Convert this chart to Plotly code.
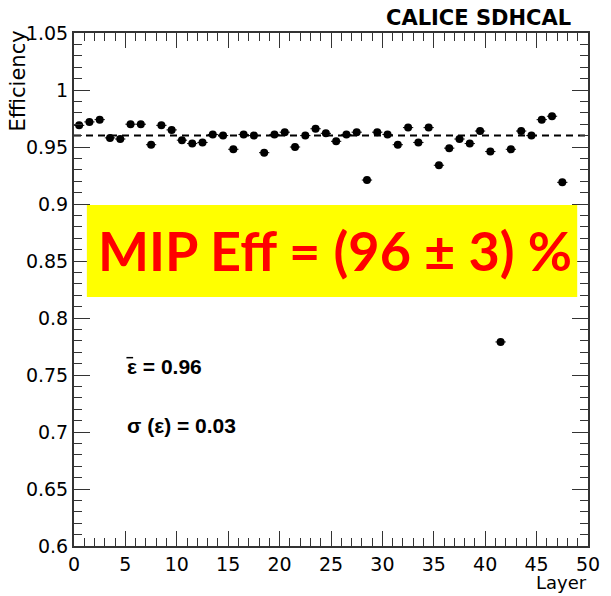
import plotly.graph_objects as go

layers = [i + 0.5 for i in range(48)]
efficiency = [0.969, 0.972, 0.974, 0.958, 0.957, 0.970, 0.970, 0.952, 0.969, 0.965,
              0.956, 0.953, 0.954, 0.961, 0.960, 0.948, 0.961, 0.960, 0.945, 0.961,
              0.963, 0.950, 0.960, 0.966, 0.962, 0.955, 0.961, 0.963, 0.921, 0.963,
              0.961, 0.952, 0.967, 0.954, 0.967, 0.934, 0.949, 0.957, 0.953, 0.964,
              0.946, 0.779, 0.948, 0.964, 0.960, 0.974, 0.977, 0.919]
mean_eff = 0.96
x_range = [0, 50]
y_range = [0.6, 1.05]
y_ticks = [0.6, 0.65, 0.7, 0.75, 0.8, 0.85, 0.9, 0.95, 1.0, 1.05]
y_ticktext = ["0.6", "0.65", "0.7", "0.75", "0.8", "0.85", "0.9", "0.95", "1", "1.05"]
x_ticks = [0, 5, 10, 15, 20, 25, 30, 35, 40, 45, 50]

AX = "#333333"
FONT = "DejaVu Sans"
ARIAL = "Liberation Sans"

fig = go.Figure()
fig.add_trace(go.Scatter(
    x=x_range, y=[mean_eff, mean_eff], mode="lines",
    line=dict(color="black", width=2, dash="7px,5px"), hoverinfo="skip", showlegend=False))
fig.add_trace(go.Scatter(
    x=layers, y=efficiency, mode="markers",
    marker=dict(color="black", size=8, symbol="circle"),
    error_x=dict(type="constant", value=0.5, color="black", thickness=1, width=0),
    showlegend=False))
# invisible trace to activate the mirrored (top/right) tick axes
fig.add_trace(go.Scatter(x=x_range, y=y_range, xaxis="x2", yaxis="y2", mode="markers",
                         marker=dict(opacity=0), hoverinfo="skip", showlegend=False))

# yellow box with red text
fig.add_shape(type="rect", xref="x", yref="y", x0=1.25, x1=48.95, y0=0.8184, y1=0.8992,
              fillcolor="#FFFF00", line=dict(width=0), layer="above")
fig.add_annotation(x=25.4, y=0.8588, xref="x", yref="y", text="<b>MIP Eff = (96 ± 3) %</b>",
                   showarrow=False, font=dict(family="Lato", size=54, color="#FF0000"))

fig.add_annotation(x=5.0, y=0.7572, xref="x", yref="y", xanchor="left", yanchor="middle",
                   text="<b>ε = 0.96</b>", showarrow=False,
                   font=dict(family=ARIAL, size=21, color="black"))
# overline of the mean symbol
fig.add_shape(type="line", xref="x", yref="y", x0=5.1, x1=5.75, y0=0.7652, y1=0.7652,
              line=dict(color="black", width=1.5))
fig.add_annotation(x=5.0, y=0.706, xref="x", yref="y", xanchor="left", yanchor="middle",
                   text="<b>σ (ε) = 0.03</b>", showarrow=False,
                   font=dict(family=ARIAL, size=21, color="black"))

fig.add_annotation(x=1.0, y=1.0, xref="paper", yref="paper", xanchor="right", yanchor="bottom",
                   yshift=1, xshift=-15, text="<b>CALICE SDHCAL</b>",
                   showarrow=False, font=dict(family=FONT, size=21, color="black"))

fig.add_annotation(x=0, y=1.0, xref="paper", yref="paper", text="Efficiency", textangle=-90,
                   showarrow=False, xanchor="right", yanchor="top", xshift=-43, yshift=4,
                   font=dict(family=FONT, size=21, color="black"))
fig.add_annotation(x=1.0, y=0, xref="paper", yref="paper", text="Layer",
                   showarrow=False, xanchor="right", yanchor="top", yshift=-25, xshift=0,
                   borderpad=0, font=dict(family=FONT, size=18, color="black"))

common = dict(ticks="inside", tickwidth=1, tickcolor=AX, showgrid=False, zeroline=False)
fig.update_layout(
    xaxis=dict(range=x_range, tickvals=x_ticks, ticklen=15, showline=True, linecolor=AX,
               linewidth=2, mirror=True, tickfont=dict(family=FONT, size=19, color="black"),
               minor=dict(dtick=1, ticks="inside", ticklen=8, tickcolor=AX, tickwidth=1,
                          showgrid=False), **common),
    yaxis=dict(range=y_range, tickvals=y_ticks, ticktext=y_ticktext, ticklen=16, showline=True,
               linecolor=AX, linewidth=2, mirror=True,
               tickfont=dict(family=FONT, size=19, color="black"),
               minor=dict(dtick=0.01, tick0=0.6, ticks="inside", ticklen=8, tickcolor=AX,
                          tickwidth=1, showgrid=False), **common),
    xaxis2=dict(range=x_range, overlaying="x", side="top", tickvals=x_ticks, ticklen=15,
                showticklabels=False,
                minor=dict(dtick=1, ticks="inside", ticklen=8, tickcolor=AX, tickwidth=1,
                           showgrid=False), **common),
    yaxis2=dict(range=y_range, overlaying="y", side="right", tickvals=y_ticks, ticklen=16,
                showticklabels=False,
                minor=dict(dtick=0.01, tick0=0.6, ticks="inside", ticklen=8, tickcolor=AX,
                           tickwidth=1, showgrid=False), **common),
    width=611, height=596, margin=dict(l=74, r=11, t=33, b=50),
    plot_bgcolor="white", paper_bgcolor="white")

fig.write_html("out.html")
